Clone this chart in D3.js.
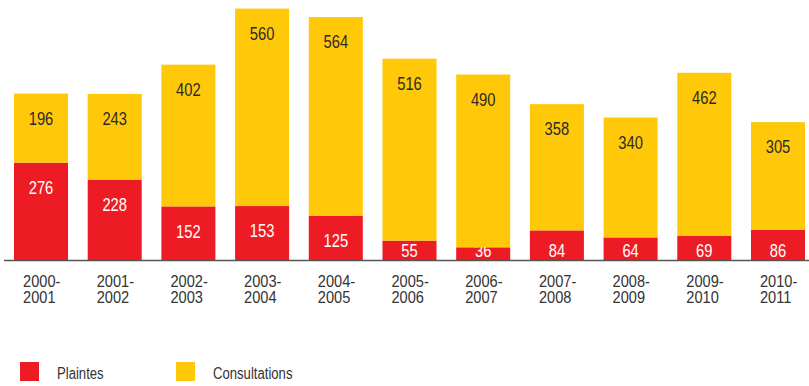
<!DOCTYPE html>
<html>
<head>
<meta charset="utf-8">
<script src="https://cdn.jsdelivr.net/npm/d3@7"></script>
<style>
  body { margin: 0; background: #fff; }
  text { font-family: "Liberation Sans", Arial, sans-serif; }
</style>
</head>
<body>
<div id="chart"></div>
<script>
var years = ["2000-2001", "2001-2002", "2002-2003", "2003-2004", "2004-2005", "2005-2006",
             "2006-2007", "2007-2008", "2008-2009", "2009-2010", "2010-2011"];
var plaintes = [276, 228, 152, 153, 125, 55, 36, 84, 64, 69, 86];
var consultations = [196, 243, 402, 560, 564, 516, 490, 358, 340, 462, 305];
var seriesNames = ["Plaintes", "Consultations"];
var colors = ["#ED1C24", "#FFC808"];

var width = 809, height = 386, baseline = 260;
var narrow = 0.82; // squeeze text to look like a condensed face

var svg = d3.select("#chart").append("svg")
    .attr("width", width)
    .attr("height", height);

var table = years.map(function (y, i) {
    return { year: y, Plaintes: plaintes[i], Consultations: consultations[i] };
});
var stacked = d3.stack().keys(seriesNames)(table);

var x = d3.scaleBand().domain(years).range([14, 805]).paddingInner(0.267).paddingOuter(0);
var y = d3.scaleLinear().domain([0, 713]).range([baseline, 8.6]);

// bars
stacked.forEach(function (layer, k) {
    svg.append("g").selectAll("rect")
        .data(layer)
        .enter()
        .append("rect")
        .attr("x", d => x(d.data.year))
        .attr("y", d => y(d[1]))
        .attr("width", x.bandwidth())
        .attr("height", d => y(d[0]) - y(d[1]))
        .attr("fill", colors[k]);

    // value labels
    svg.append("g").selectAll("text")
        .data(layer)
        .enter()
        .append("text")
        .attr("transform", d => "translate(" + (x(d.data.year) + x.bandwidth() / 2) + ","
            + Math.min(y(d[1]) + 25, baseline - 9.5) + ") scale(" + narrow + ",1)")
        .attr("dy", "0.35em")
        .attr("text-anchor", "middle")
        .style("font-size", "18px")
        .style("fill", k == 0 ? "#fff" : "#2b2b2b")
        .text(d => d[1] - d[0]);
});

// baseline
svg.append("line")
    .attr("x1", 4).attr("x2", 809)
    .attr("y1", baseline + 0.5).attr("y2", baseline + 0.5)
    .attr("stroke", "#555")
    .attr("stroke-width", 1.5);

// category labels, two lines each
var g = svg.append("g");
years.forEach(function (d) {
    var parts = d.split("-");
    [parts[0] + "-", parts[1]].forEach(function (line, j) {
        g.append("text")
            .attr("transform", "translate(" + (x(d) + 9) + "," + (286.5 + j * 16.5) + ") scale(0.86,1)")
            .style("font-size", "17px")
            .style("fill", "#333")
            .text(line);
    });
});

// legend
var legX = [20, 176];
seriesNames.forEach(function (name, i) {
    svg.append("rect")
        .attr("x", legX[i]).attr("y", 362)
        .attr("width", 19).attr("height", 19)
        .attr("fill", colors[i]);
    svg.append("text")
        .attr("transform", "translate(" + (legX[i] + 37) + ",379) scale(" + narrow + ",1)")
        .style("font-size", "16px")
        .style("fill", "#333")
        .text(name);
});
</script>
</body>
</html>
